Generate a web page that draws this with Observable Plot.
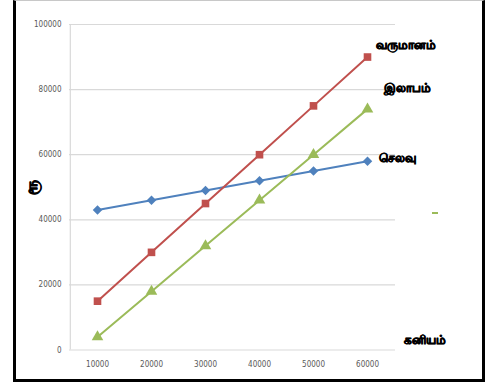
<!DOCTYPE html>
<html>
<head>
<meta charset="utf-8">
<script src="https://cdn.jsdelivr.net/npm/d3@7"></script>
<script src="https://cdn.jsdelivr.net/npm/@observablehq/plot@0.6"></script>
<style>
  html, body { margin: 0; padding: 0; background: #fff; }
  #wrap { position: relative; width: 490px; height: 383px; overflow: hidden; }
  #frame { position: absolute; left: 13px; top: 0; width: 466px; height: 378px;
    border-left: 3px solid #000; border-right: 3px solid #000; border-bottom: 3px solid #000;
    border-top: 1px solid #c8c8c8; box-sizing: content-box; pointer-events: none; }
  #chart { position: absolute; left: 0; top: 0; }
  #leg { position: absolute; left: 432px; top: 212px; width: 6px; height: 2px; background: #9BBB59; }
</style>
</head>
<body>
<div id="wrap"><div id="chart"></div><div id="frame"></div><div id="leg"></div></div>
<script>
const categories = [10000, 20000, 30000, 40000, 50000, 60000];
const expense = [43000, 46000, 49000, 52000, 55000, 58000];   // செலவு
const revenue = [15000, 30000, 45000, 60000, 75000, 90000];   // வருமானம்
const profit  = [4000, 18000, 32000, 46000, 60000, 74000];    // இலாபம்
const yTicks = [0, 20000, 40000, 60000, 80000, 100000];
const seriesNames = ["செலவு", "வருமானம்", "இலாபம்"];
const seriesColors = ["#4F81BD", "#C0504D", "#9BBB59"];
const seriesSymbols = ["diamond2", "square", "triangle"];
const labelTexts = ["வருமானம்", "இலாபம்", "செலவு", "கனியம்"];
const labelValues = [93500, 80500, 59000, 3000];
const labelDx = [8, 16, 11, 36];
const yAxisLabel = "ரூ";

const seriesValues = [expense, revenue, profit];
const rows = [];
seriesNames.forEach((s, i) => categories.forEach((c, j) => rows.push({series: s, x: String(c), y: seriesValues[i][j]})));
const lastCat = String(categories[categories.length - 1]);

const font = "'Liberation Sans Narrow', 'DejaVu Sans Condensed', sans-serif";
const tamilFont = "'Noto Sans', 'Noto Sans CJK SC', sans-serif";

const labelMarks = labelTexts.map((t, i) => Plot.text([{t, x: lastCat, y: labelValues[i]}], {
  x: "x", y: "y", text: "t", dx: labelDx[i], textAnchor: "start", fontSize: 11.5, fontWeight: "bold",
  fill: "#000", stroke: "#000", strokeWidth: 0.7, fontFamily: tamilFont
}));

const chart = Plot.plot({
  width: 490, height: 383,
  marginLeft: 69, marginRight: 95, marginTop: 24, marginBottom: 33.5,
  style: {fontFamily: font, fontSize: "8px", color: "#595959", background: "transparent", overflow: "visible"},
  x: {type: "point", domain: categories.map(String), padding: 0.5, label: null},
  y: {domain: [0, 100000], label: null},
  color: {domain: seriesNames, range: seriesColors},
  symbol: {domain: seriesNames, range: seriesSymbols},
  marks: [
    Plot.gridY(yTicks, {stroke: "#d9d9d9", strokeOpacity: 1, strokeWidth: 1.2}),
    Plot.ruleX([categories.map(String)[0]], {stroke: "#d9d9d9", strokeWidth: 1.2, y1: 0, y2: 100000, dx: -27.2}),
    Plot.axisX({tickSize: 0, tickPadding: 11, fontSize: 8, fill: "#595959"}),
    Plot.axisY({ticks: yTicks, tickSize: 0, tickPadding: 8, tickFormat: d => String(d), fontSize: 8, fill: "#595959"}),
    Plot.line(rows, {x: "x", y: "y", z: "series", stroke: "series", strokeWidth: 2}),
    Plot.dot(rows, {x: "x", y: "y", symbol: "series", fill: "series", stroke: "none", r: 4.3}),
    ...labelMarks,
    Plot.text([yAxisLabel], {frameAnchor: "left", dx: -38, dy: 8, rotate: -90, fontSize: 16, fontWeight: "bold",
      fill: "#000", stroke: "#000", strokeWidth: 0.8, fontFamily: tamilFont})
  ]
});
document.getElementById("chart").appendChild(chart);
</script>
</body>
</html>
